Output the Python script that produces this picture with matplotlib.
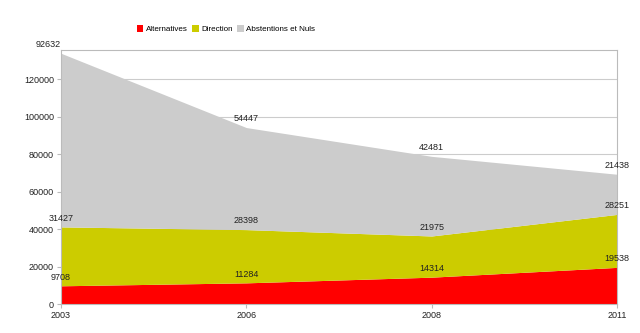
import matplotlib
matplotlib.use("Agg")
import matplotlib.pyplot as plt
import numpy as np

years = ["2003", "2006", "2008", "2011"]
alternatives = [9708, 11284, 14314, 19538]
direction = [31427, 28398, 21975, 28251]
abstentions = [92632, 54447, 42481, 21438]
series_names = ["Alternatives", "Direction", "Abstentions et Nuls"]
colors = ["#FF0000", "#CCCC00", "#CCCCCC"]

plt.rcParams['font.family'] = ['Liberation Sans', 'DejaVu Sans']
fig = plt.figure(figsize=(6.4, 3.33), dpi=100)
ax = fig.add_axes([61/640, 1-304/333, (617-61)/640, (304-50)/333])

x = np.arange(len(years))
series = [alternatives, direction, abstentions]
base = np.zeros(len(years))
for vals, c, name in zip(series, colors, series_names):
    top = base + np.array(vals)
    ax.fill_between(x, base, top, color=c, lw=0, label=name, zorder=2)
    for i, v in enumerate(vals):
        ha = 'center'
        if i == 0 and name == "Abstentions et Nuls":
            ha = 'right'
        ax.annotate(str(v), (x[i], top[i]), xytext=(0, 3), textcoords='offset points',
                    ha=ha, va='bottom', fontsize=6.5, color='#222222', zorder=5)
    base = top

ax.set_xlim(0, len(years)-1)
ax.set_ylim(0, 135500)
ax.set_yticks(np.arange(0, 120001, 20000))
ax.set_xticks(x)
ax.set_xticklabels(years)
ax.yaxis.grid(True, color='#CCCCCC', lw=0.8, zorder=1)
ax.set_axisbelow(True)
for s in ax.spines.values():
    s.set_color('#BBBBBB')
    s.set_linewidth(0.8)
ax.tick_params(axis='both', labelsize=6.5, colors='#BBBBBB', labelcolor='#222222',
               length=3, width=0.8, pad=2)

handles, labels = ax.get_legend_handles_labels()
leg = fig.legend(handles, labels, loc='center', bbox_to_anchor=(226/640, 1-29/333),
                 ncol=3, frameon=False, fontsize=5.8, handlelength=0.8, handleheight=0.9,
                 handletextpad=0.3, columnspacing=0.6)

fig.savefig("out.png", dpi=100)
